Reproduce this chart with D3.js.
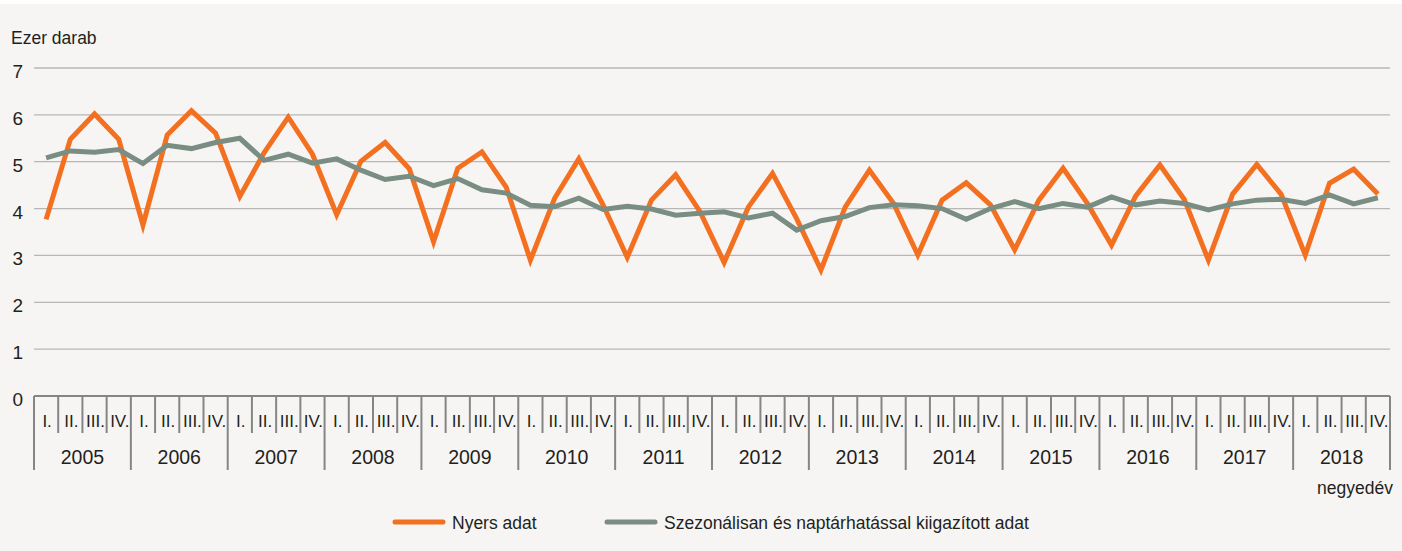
<!DOCTYPE html>
<html>
<head>
<meta charset="utf-8">
<script src="https://cdn.jsdelivr.net/npm/d3@7"></script>
<style>
  body { margin: 0; background: #f6f5f3; }
  svg text { font-family: "Liberation Sans", Arial, sans-serif; fill: #231f20; }
</style>
</head>
<body>
<div id="chart"></div>
<script>
const w = 1402;
const h = 551;

// data
const years = ["2005", "2006", "2007", "2008", "2009", "2010", "2011", "2012", "2013", "2014", "2015", "2016", "2017", "2018"];
const quarters = ["I.", "II.", "III.", "IV."];
const yTicks = [0, 1, 2, 3, 4, 5, 6, 7];

const nyers = [
  3.77, 5.48, 6.02, 5.48,
  3.65, 5.57, 6.09, 5.61,
  4.26, 5.19, 5.95, 5.16,
  3.87, 5.01, 5.41, 4.85,
  3.29, 4.86, 5.21, 4.46,
  2.90, 4.22, 5.06, 4.08,
  2.96, 4.18, 4.72, 3.94,
  2.85, 4.03, 4.75, 3.78,
  2.69, 4.03, 4.82, 4.11,
  3.01, 4.18, 4.55, 4.08,
  3.12, 4.18, 4.86, 4.11,
  3.22, 4.27, 4.93, 4.20,
  2.90, 4.31, 4.94, 4.31,
  3.01, 4.54, 4.84, 4.31
];

const kiigazitott = [
  5.08, 5.23, 5.20, 5.26,
  4.96, 5.35, 5.28, 5.41,
  5.50, 5.03, 5.16, 4.97,
  5.06, 4.82, 4.62, 4.69,
  4.49, 4.64, 4.40, 4.33,
  4.07, 4.04, 4.22, 3.98,
  4.05, 3.99, 3.86, 3.90,
  3.93, 3.80, 3.90, 3.54,
  3.74, 3.83, 4.02, 4.08,
  4.06, 4.00, 3.77, 4.00,
  4.15, 4.00, 4.11, 4.03,
  4.25, 4.08, 4.16, 4.11,
  3.97, 4.10, 4.18, 4.20,
  4.11, 4.29, 4.10, 4.23
];

const seriesNames = ["Nyers adat", "Szezonálisan és naptárhatással kiigazított adat"];
const colors = ["#f37021", "#7a8d83"];

const plotLeft = 34, plotRight = 1390, plotTop = 68, plotBottom = 396;

// one key per quarter
const keys = [];
years.forEach(y => quarters.forEach(q => keys.push(y + "-" + q)));

const svg = d3.select("#chart")
  .append("svg")
  .attr("width", w)
  .attr("height", h)
  .style("display", "block");

svg.append("rect").attr("width", w).attr("height", 4).attr("fill", "#ffffff");

const x = d3.scaleBand().domain(keys).range([plotLeft, plotRight]);
const xYear = d3.scaleBand().domain(years).range([plotLeft, plotRight]);
const y = d3.scaleLinear().domain([0, 7]).range([plotBottom, plotTop]);

// gridlines
svg.append("g")
  .selectAll("line")
  .data(yTicks)
  .enter()
  .append("line")
  .attr("x1", plotLeft)
  .attr("x2", plotRight)
  .attr("y1", d => y(d))
  .attr("y2", d => y(d))
  .attr("stroke", "#b7b7b7")
  .attr("stroke-width", 1.3);

// y labels
svg.append("g")
  .selectAll("text")
  .data(yTicks)
  .enter()
  .append("text")
  .attr("x", 23)
  .attr("y", d => y(d) + 10)
  .attr("text-anchor", "end")
  .style("font-size", "19px")
  .text(d => d);

svg.append("text")
  .attr("x", 11)
  .attr("y", 44)
  .style("font-size", "17.5px")
  .text("Ezer darab");

// x axis
const axisColor = "#858585";
svg.append("line")
  .attr("x1", plotLeft).attr("x2", plotRight)
  .attr("y1", plotBottom).attr("y2", plotBottom)
  .attr("stroke", axisColor).attr("stroke-width", 2);

svg.append("g")
  .selectAll("line")
  .data(keys)
  .enter()
  .append("line")
  .attr("x1", d => x(d))
  .attr("x2", d => x(d))
  .attr("y1", plotBottom)
  .attr("y2", d => d.endsWith("-I.") ? 470 : 433)
  .attr("stroke", axisColor)
  .attr("stroke-width", 2);

svg.append("line")
  .attr("x1", plotRight).attr("x2", plotRight)
  .attr("y1", plotBottom).attr("y2", 470)
  .attr("stroke", axisColor).attr("stroke-width", 2);

svg.append("g")
  .selectAll("text")
  .data(keys)
  .enter()
  .append("text")
  .attr("x", d => x(d) + x.bandwidth() / 2 + 1)
  .attr("y", 427)
  .attr("text-anchor", "middle")
  .style("font-size", "17px")
  .text(d => d.split("-")[1]);

svg.append("g")
  .selectAll("text")
  .data(years)
  .enter()
  .append("text")
  .attr("x", d => xYear(d) + xYear.bandwidth() / 2)
  .attr("y", 464)
  .attr("text-anchor", "middle")
  .style("font-size", "19.5px")
  .text(d => d);

svg.append("text")
  .attr("x", 1393)
  .attr("y", 494)
  .attr("text-anchor", "end")
  .style("font-size", "17.5px")
  .text("negyedév");

// lines
const line = d3.line()
  .x((d, i) => x(keys[i]) + x.bandwidth() / 2)
  .y(d => y(d));

[nyers, kiigazitott].forEach((s, k) => {
  svg.append("path")
    .datum(s)
    .attr("d", line)
    .attr("fill", "none")
    .attr("stroke", colors[k])
    .attr("stroke-width", 5)
    .attr("stroke-linejoin", "miter");
});

// legend
const legendX = [395, 607];
const legend = svg.append("g");
seriesNames.forEach((name, k) => {
  legend.append("line")
    .attr("x1", legendX[k]).attr("x2", legendX[k] + 48)
    .attr("y1", 522).attr("y2", 522)
    .attr("stroke", colors[k])
    .attr("stroke-width", 5)
    .attr("stroke-linecap", "round");
  legend.append("text")
    .attr("x", legendX[k] + 57)
    .attr("y", 529)
    .style("font-size", "17.5px")
    .text(name);
});
</script>
</body>
</html>
